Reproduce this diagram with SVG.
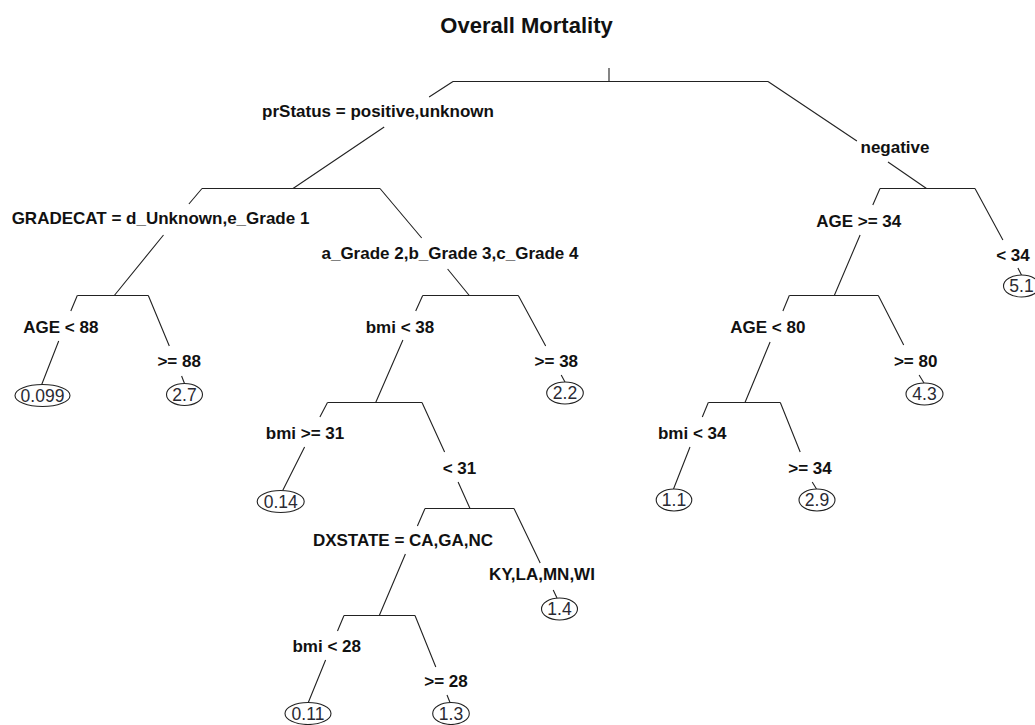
<svg xmlns="http://www.w3.org/2000/svg" width="1035" height="725" viewBox="0 0 1035 725">
  <style>
    .bg { fill: #ffffff; }
    .title { font-family: "Liberation Sans", Arial, sans-serif; font-weight: bold; font-size: 22px; fill: #111; text-anchor: middle; }
    .split { font-family: "Liberation Sans", Arial, sans-serif; font-weight: bold; font-size: 17px; fill: #111; text-anchor: middle; }
    .val { font-family: "Liberation Sans", Arial, sans-serif; font-size: 17.5px; fill: #2a2a33; text-anchor: middle; }
    .bar, .edge { fill: none; stroke: #222; stroke-width: 1.1; }
    .leaf ellipse { fill: #ffffff; stroke: #222; stroke-width: 1.1; }
  </style>

  <rect class="bg" x="0" y="0" width="1035" height="725"/>
  <text class="title" x="526.5" y="33">Overall Mortality</text>

  <!-- split bars of the internal nodes -->
  <g id="node-root"><path class="bar" d="M609 68 V81.5 M453 81.5 H768"/></g>
  <g id="node-gradecat"><path class="bar" d="M202 188.5 H380"/></g>
  <g id="node-age88"><path class="bar" d="M77.3 295.5 H148.3"/></g>
  <g id="node-bmi38"><path class="bar" d="M422.7 295.5 H518.3"/></g>
  <g id="node-bmi31"><path class="bar" d="M327.5 402.5 H422"/></g>
  <g id="node-dxstate"><path class="bar" d="M425 508.5 H514"/></g>
  <g id="node-bmi28"><path class="bar" d="M344 615.5 H415"/></g>
  <g id="node-age34"><path class="bar" d="M880 188.5 H975"/></g>
  <g id="node-age80"><path class="bar" d="M789.3 295.5 H878.3"/></g>
  <g id="node-bmi34"><path class="bar" d="M708.3 402.5 H780.3"/></g>

  <!-- branches, each broken where its split label sits -->
  <g id="connectors">
    <path class="edge" d="M453 81.5 L429.1 97 M384.2 127 L293 188.5"/>
    <path class="edge" d="M768 81.5 L856.9 141 M888 162 L926.5 188.5"/>
    <path class="edge" d="M202 188.5 L188.9 204 M163.5 235 L114.3 295.5"/>
    <path class="edge" d="M380 188.5 L421.7 238 M447.6 269 L469.3 295.5"/>
    <path class="edge" d="M77.3 295.5 L70.8 311 M58.7 341 L41.7 384.5"/>
    <path class="edge" d="M148.3 295.5 L169.3 346 M181.6 376 L184.5 383.5"/>
    <path class="edge" d="M422.7 295.5 L415.7 311 M402.9 340 L375.7 402.5"/>
    <path class="edge" d="M518.3 295.5 L545.7 346 M561.2 375 L565 382"/>
    <path class="edge" d="M327.5 402.5 L319.9 417 M304.6 447 L282.7 490.5"/>
    <path class="edge" d="M422 402.5 L444.6 452 M458.1 482 L470 508.5"/>
    <path class="edge" d="M425 508.5 L417.4 526 M405.4 554 L379.3 615.5"/>
    <path class="edge" d="M514 508.5 L540.2 563 M553.2 590 L557 598"/>
    <path class="edge" d="M344 615.5 L337.5 631 M325.6 660 L308.3 702.5"/>
    <path class="edge" d="M415 615.5 L435.8 667 M447 695 L450 702.5"/>
    <path class="edge" d="M880 188.5 L872.8 205 M860.1 235 L834.3 295.5"/>
    <path class="edge" d="M975 188.5 L1002.9 240 M1017.9 268 L1021.5 275"/>
    <path class="edge" d="M789.3 295.5 L782.9 311 M770.1 342 L745 402.5"/>
    <path class="edge" d="M878.3 295.5 L903.7 345 M919.1 375 L924 383"/>
    <path class="edge" d="M708.3 402.5 L702.3 417 M690 447 L673.5 489"/>
    <path class="edge" d="M780.3 402.5 L800.2 452 M812.2 482 L816.5 489"/>
  </g>

  <!-- split labels -->
  <g id="split-labels">
    <text class="split" x="378" y="117">prStatus = positive,unknown</text>
    <text class="split" x="895" y="153">negative</text>
    <text class="split" x="160.5" y="224.3">GRADECAT = d_Unknown,e_Grade 1</text>
    <text class="split" x="450" y="259.3">a_Grade 2,b_Grade 3,c_Grade 4</text>
    <text class="split" x="60.8" y="332.7">AGE &lt; 88</text>
    <text class="split" x="179.2" y="367.3">&gt;= 88</text>
    <text class="split" x="400" y="332.7">bmi &lt; 38</text>
    <text class="split" x="556.3" y="367.3">&gt;= 38</text>
    <text class="split" x="305" y="439">bmi &gt;= 31</text>
    <text class="split" x="459.5" y="474">&lt; 31</text>
    <text class="split" x="403" y="546">DXSTATE = CA,GA,NC</text>
    <text class="split" x="542" y="580">KY,LA,MN,WI</text>
    <text class="split" x="326.7" y="652.3">bmi &lt; 28</text>
    <text class="split" x="446" y="687.3">&gt;= 28</text>
    <text class="split" x="858.7" y="226.7">AGE &gt;= 34</text>
    <text class="split" x="1013" y="260.7">&lt; 34</text>
    <text class="split" x="767.8" y="333.3">AGE &lt; 80</text>
    <text class="split" x="915.7" y="367.3">&gt;= 80</text>
    <text class="split" x="692.2" y="439.3">bmi &lt; 34</text>
    <text class="split" x="810" y="474">&gt;= 34</text>
  </g>

  <!-- terminal nodes with predicted values -->
  <g id="leaf-0099" class="leaf"><ellipse cx="42.5" cy="395.5" rx="27.5" ry="11"/><text class="val" x="42.5" y="401.8">0.099</text></g>
  <g id="leaf-27" class="leaf"><ellipse cx="184.5" cy="394.5" rx="18" ry="11"/><text class="val" x="184.5" y="400.8">2.7</text></g>
  <g id="leaf-22" class="leaf"><ellipse cx="565" cy="393" rx="18.3" ry="11"/><text class="val" x="565" y="399.3">2.2</text></g>
  <g id="leaf-014" class="leaf"><ellipse cx="280.7" cy="501.5" rx="23.5" ry="11"/><text class="val" x="280.7" y="507.8">0.14</text></g>
  <g id="leaf-14" class="leaf"><ellipse cx="559.5" cy="609" rx="18" ry="11"/><text class="val" x="559.5" y="615.3">1.4</text></g>
  <g id="leaf-011" class="leaf"><ellipse cx="308" cy="713.5" rx="23" ry="11"/><text class="val" x="308" y="719.8">0.11</text></g>
  <g id="leaf-13" class="leaf"><ellipse cx="451" cy="713.5" rx="18.3" ry="11"/><text class="val" x="451" y="719.8">1.3</text></g>
  <g id="leaf-51" class="leaf"><ellipse cx="1021.5" cy="286" rx="18" ry="11"/><text class="val" x="1021.5" y="292.3">5.1</text></g>
  <g id="leaf-43" class="leaf"><ellipse cx="924.5" cy="394" rx="18.5" ry="11"/><text class="val" x="924.5" y="400.3">4.3</text></g>
  <g id="leaf-11" class="leaf"><ellipse cx="674" cy="500" rx="17.8" ry="11"/><text class="val" x="674" y="506.3">1.1</text></g>
  <g id="leaf-29" class="leaf"><ellipse cx="817" cy="500" rx="18" ry="11"/><text class="val" x="817" y="506.3">2.9</text></g>
</svg>
